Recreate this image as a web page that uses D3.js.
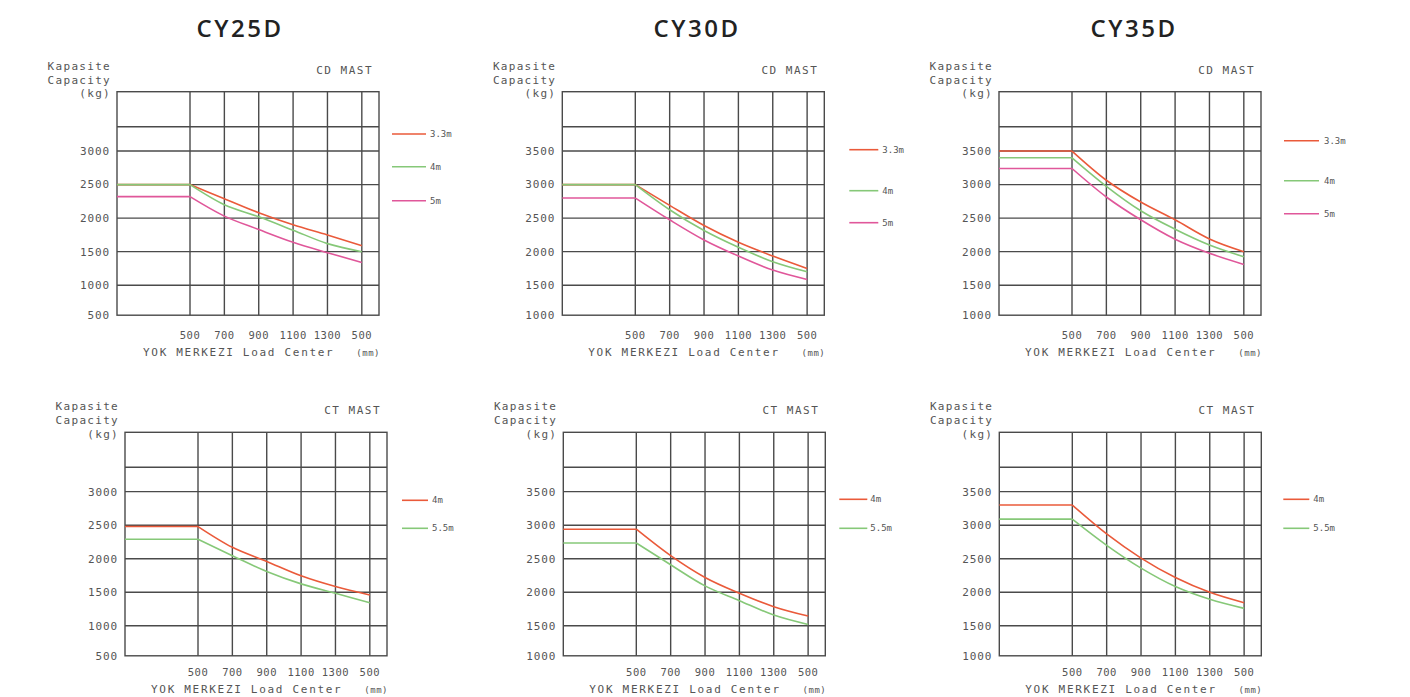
<!DOCTYPE html>
<html><head><meta charset="utf-8">
<script src="https://cdn.jsdelivr.net/npm/d3@7"></script>
<style>body{margin:0;background:#fff}svg{display:block}</style>
</head><body>
<svg id="c" width="1410" height="697"></svg>
<script>
// ---------- data ----------
const models = ["CY25D", "CY30D", "CY35D"];
const mastTypes = ["CD MAST", "CT MAST"];
const loadCenters = [0, 500, 700, 900, 1100, 1300, 1500];
const xTickValues = [500, 700, 900, 1100, 1300, 1500];
const xTickLabels = ["500", "700", "900", "1100", "1300", "500"];
const yTicksCY25 = [500, 1000, 1500, 2000, 2500, 3000];
const yTicksCY3035 = [1000, 1500, 2000, 2500, 3000, 3500];
const cdSeriesNames = ["3.3m", "4m", "5m"];
const ctSeriesNames = ["4m", "5.5m"];

const cy25CD_33 = [2500, 2500, 2290, 2080, 1900, 1750, 1590];
const cy25CD_4  = [2500, 2500, 2200, 2020, 1820, 1620, 1500];
const cy25CD_5  = [2320, 2320, 2030, 1830, 1640, 1485, 1340];
const cy30CD_33 = [3000, 3000, 2690, 2390, 2140, 1935, 1750];
const cy30CD_4  = [3000, 3000, 2625, 2315, 2065, 1850, 1700];
const cy30CD_5  = [2800, 2800, 2475, 2175, 1935, 1725, 1585];
const cy35CD_33 = [3500, 3500, 3065, 2740, 2475, 2190, 2000];
const cy35CD_4  = [3400, 3400, 2975, 2610, 2335, 2100, 1925];
const cy35CD_5  = [3240, 3240, 2815, 2475, 2185, 1975, 1810];
const cy25CT_4  = [2480, 2480, 2170, 1960, 1745, 1585, 1460];
const cy25CT_55 = [2290, 2290, 2045, 1810, 1625, 1485, 1345];
const cy30CT_4  = [2940, 2940, 2545, 2220, 1985, 1785, 1645];
const cy30CT_55 = [2735, 2735, 2410, 2095, 1875, 1660, 1520];
const cy35CT_4  = [3300, 3300, 2870, 2510, 2220, 2000, 1845];
const cy35CT_55 = [3090, 3090, 2700, 2360, 2085, 1895, 1760];

// ---------- layout / style ----------
const RED = "#ea5a3a", GREEN = "#86c878", PINK = "#e0579a";
const W = 262, H = 223.5;
const cadFont = "'DejaVu Sans Mono', monospace";
const textCol = "#555";
const titleX = [240, 697, 1134];

const panels = [
  {col:0,row:0,left:117,top:91.7,ticks:yTicksCY25,
   series:[[cdSeriesNames[0],cy25CD_33,RED],[cdSeriesNames[1],cy25CD_4,GREEN],[cdSeriesNames[2],cy25CD_5,PINK]],
   lg:{x0:13,x1:47,tx:51,ys:[42.3,75,109]}},
  {col:1,row:0,left:562.3,top:91.7,ticks:yTicksCY3035,
   series:[[cdSeriesNames[0],cy30CD_33,RED],[cdSeriesNames[1],cy30CD_4,GREEN],[cdSeriesNames[2],cy30CD_5,PINK]],
   lg:{x0:25,x1:54,tx:58,ys:[58,99,131]}},
  {col:2,row:0,left:999,top:91.7,ticks:yTicksCY3035,
   series:[[cdSeriesNames[0],cy35CD_33,RED],[cdSeriesNames[1],cy35CD_4,GREEN],[cdSeriesNames[2],cy35CD_5,PINK]],
   lg:{x0:23,x1:58,tx:63,ys:[49,89,122]}},
  {col:0,row:1,left:125,top:432.3,ticks:yTicksCY25,
   series:[[ctSeriesNames[0],cy25CT_4,RED],[ctSeriesNames[1],cy25CT_55,GREEN]],
   lg:{x0:15,x1:41,tx:45,ys:[68,96]}},
  {col:1,row:1,left:563.3,top:432.3,ticks:yTicksCY3035,
   series:[[ctSeriesNames[0],cy30CT_4,RED],[ctSeriesNames[1],cy30CT_55,GREEN]],
   lg:{x0:14,x1:42,tx:45,ys:[67,96]}},
  {col:2,row:1,left:999.3,top:432.3,ticks:yTicksCY3035,
   series:[[ctSeriesNames[0],cy35CT_4,RED],[ctSeriesNames[1],cy35CT_55,GREEN]],
   lg:{x0:22,x1:48,tx:52,ys:[67,96]}}
];

const svg = d3.select("#c");
svg.append("rect").attr("width",1410).attr("height",697).attr("fill","#fff");

// titles
svg.selectAll("text.title").data(models).join("text")
  .attr("class","title")
  .attr("x",(d,i)=>titleX[i]).attr("y",37)
  .attr("text-anchor","middle")
  .attr("font-family","'Open Sans', sans-serif")
  .attr("font-weight",600).attr("font-size",24)
  .attr("letter-spacing","2.5px")
  .attr("fill","#222").text(d=>d);

panels.forEach(p => {
  const g = svg.append("g").attr("transform",`translate(${p.left},${p.top})`);
  const yMin = p.ticks[0], yTop = p.ticks[p.ticks.length-1];
  const x = d3.scaleLinear().domain([0,500,1600]).range([0,73,W]);
  const y = d3.scaleLinear().domain([yMin, yMin+500, yTop+885]).range([H, H-30, 0]);

  // grid
  const hVals = p.ticks.slice(1).concat([yTop+363]);
  g.selectAll("line.h").data(hVals).join("line")
    .attr("x1",0).attr("x2",W).attr("y1",d=>y(d)).attr("y2",d=>y(d))
    .attr("stroke","#4a4a4a").attr("stroke-width",1.4);
  g.selectAll("line.v").data(xTickValues).join("line")
    .attr("y1",0).attr("y2",H).attr("x1",d=>x(d)).attr("x2",d=>x(d))
    .attr("stroke","#4a4a4a").attr("stroke-width",1.4);
  g.append("rect").attr("width",W).attr("height",H)
    .attr("fill","none").attr("stroke","#4a4a4a").attr("stroke-width",1.4);

  // y labels
  g.selectAll("text.yl").data(p.ticks).join("text")
    .attr("x",-7).attr("y",d=>y(d)).attr("dy","0.35em")
    .attr("text-anchor","end").attr("font-family",cadFont).attr("font-size",11)
    .attr("letter-spacing","0.9px").attr("fill",textCol).text(d=>d);

  // x labels
  const xlY = p.row === 0 ? H+20 : H+17;
  const xtY = p.row === 0 ? H+41 : H+37.5;
  g.selectAll("text.xl").data(xTickValues).join("text")
    .attr("x",d=>x(d)).attr("y",xlY).attr("dy","0.35em")
    .attr("text-anchor","middle").attr("font-family",cadFont).attr("font-size",10.5)
    .attr("letter-spacing","0.5px").attr("fill",textCol).text((d,i)=>xTickLabels[i]);

  g.append("text").attr("x",26).attr("y",xtY)
    .attr("font-family",cadFont).attr("font-size",11).attr("letter-spacing","1.7px")
    .attr("fill",textCol).text("YOK MERKEZI Load Center");
  g.append("text").attr("x",W+1).attr("y",xtY).attr("text-anchor","end")
    .attr("font-family",cadFont).attr("font-size",9).attr("letter-spacing","0.5px")
    .attr("fill",textCol).text("(mm)");

  // axis title
  [["Kapasite",-26],["Capacity",-12],["(kg)",1.5]].forEach(([t,dy])=>{
    g.append("text").attr("x",-6).attr("y",dy).attr("dy","0.35em").attr("text-anchor","end")
      .attr("font-family",cadFont).attr("font-size",11).attr("letter-spacing","1.3px")
      .attr("fill",textCol).text(t);
  });
  g.append("text").attr("x",W-6).attr("y",-22).attr("dy","0.35em").attr("text-anchor","end")
    .attr("font-family",cadFont).attr("font-size",11).attr("letter-spacing","1.5px")
    .attr("fill",textCol).text(mastTypes[p.row]);

  // curves: flat segment up to 500, then a smooth decline
  const flat = d3.line().x((d,i)=>x(loadCenters[i])).y(d=>y(d));
  const curve = d3.line().x((d,i)=>x(loadCenters[i+1])).y(d=>y(d)).curve(d3.curveMonotoneX);
  p.series.forEach(([name,vals,col],k)=>{
    g.append("path").attr("d",flat(vals.slice(0,2))).attr("fill","none")
      .attr("stroke",col).attr("stroke-width",1.6);
    g.append("path").attr("d",curve(vals.slice(1))).attr("fill","none")
      .attr("stroke",col).attr("stroke-width",1.6);
    const ly = p.lg.ys[k];
    g.append("line").attr("x1",W+p.lg.x0).attr("x2",W+p.lg.x1).attr("y1",ly).attr("y2",ly)
      .attr("stroke",col).attr("stroke-width",1.6);
    g.append("text").attr("x",W+p.lg.tx).attr("y",ly).attr("dy","0.35em")
      .attr("font-family",cadFont).attr("font-size",9).attr("fill",textCol).text(name);
  });
});
</script>
</body></html>
